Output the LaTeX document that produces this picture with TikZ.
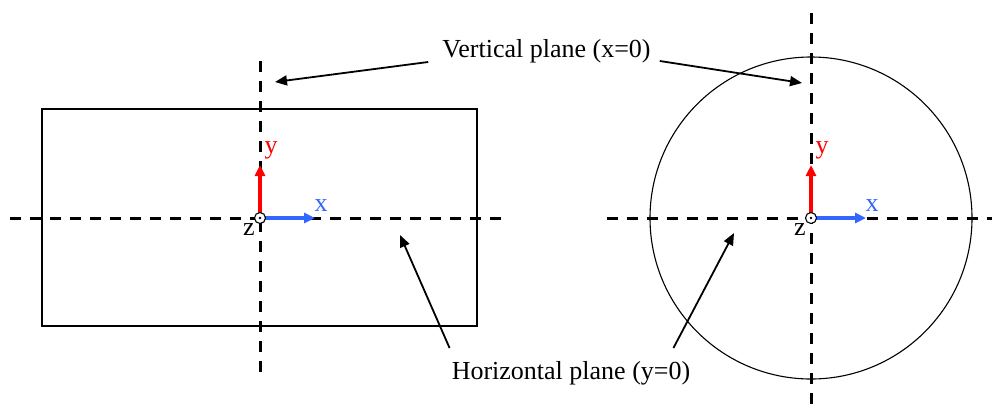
\documentclass[tikz,border=0pt]{standalone}
\usepackage{fontspec}
\setmainfont{Liberation Serif}
\usetikzlibrary{arrows.meta}
\definecolor{axisblue}{RGB}{51,102,255}
\tikzset{
    plane/.style={line width=3pt, dash pattern=on 11pt off 9pt},
    outline/.style={line width=1.1pt},
    pointer/.style={line width=1.8pt, -{Triangle[length=12pt,width=10pt]}},
    axis/.style={line width=3.2pt, -{Triangle[length=11pt,width=10pt]}},
    lbl/.style={font=\fontsize{26}{30}\selectfont, inner sep=0pt},
}
\begin{document}
\begin{tikzpicture}[x=1pt,y=-1pt]
    \useasboundingbox (0,0) rectangle (992,410);
    % left view and right view
    \draw[outline] (42,109) rectangle (477,326);
    \draw[outline] (811,218) circle (161pt);
    \draw[plane] (10,218) -- (504,218);
    \draw[plane] (260,61) -- (260,373);
    \draw[plane] (607,218) -- (992,218);
    \draw[plane] (811,13) -- (811,407);
    % axes at both origins
    \foreach \ox/\s in {260/L,811/R} {
        \coordinate (o\s) at (\ox,218);
        \coordinate (ytip\s) at (\ox,165);
        \coordinate (xtip\s) at (\ox+55,218);
        \draw[axis, red] (o\s) -- (ytip\s);
        \draw[axis, axisblue] (o\s) -- (xtip\s);
        \node[lbl, red] (ylab\s) at (\ox+11,150) {y};
        \node[lbl, axisblue] (xlab\s) at (\ox+61,206) {x};
        \node[lbl] (zlab\s) at (\ox-11,230) {z};
        \draw[outline, fill=white] (o\s) circle (5.5pt);
        \fill (o\s) circle (1.4pt);
    }
    % plane labels
    \node[lbl] (vlabel) at (546.5,51) {Vertical plane (x=0)};
    \node[lbl] (hlabel) at (571,373) {Horizontal plane (y=0)};
    \coordinate (vtipL) at (275,82);
    \coordinate (vtipR) at (802,83);
    \coordinate (htipL) at (400,235);
    \coordinate (htipR) at (734,233);
    \draw[pointer] ([xshift=-14pt,yshift=1pt]vlabel.south west) -- (vtipL);
    \draw[pointer] ([xshift=9pt,yshift=2pt]vlabel.south east) -- (vtipR);
    \draw[pointer] ([xshift=-2pt,yshift=13pt]hlabel.north west) -- (htipL);
    \draw[pointer] ([xshift=-17pt,yshift=13pt]hlabel.north east) -- (htipR);
\end{tikzpicture}
\end{document}
